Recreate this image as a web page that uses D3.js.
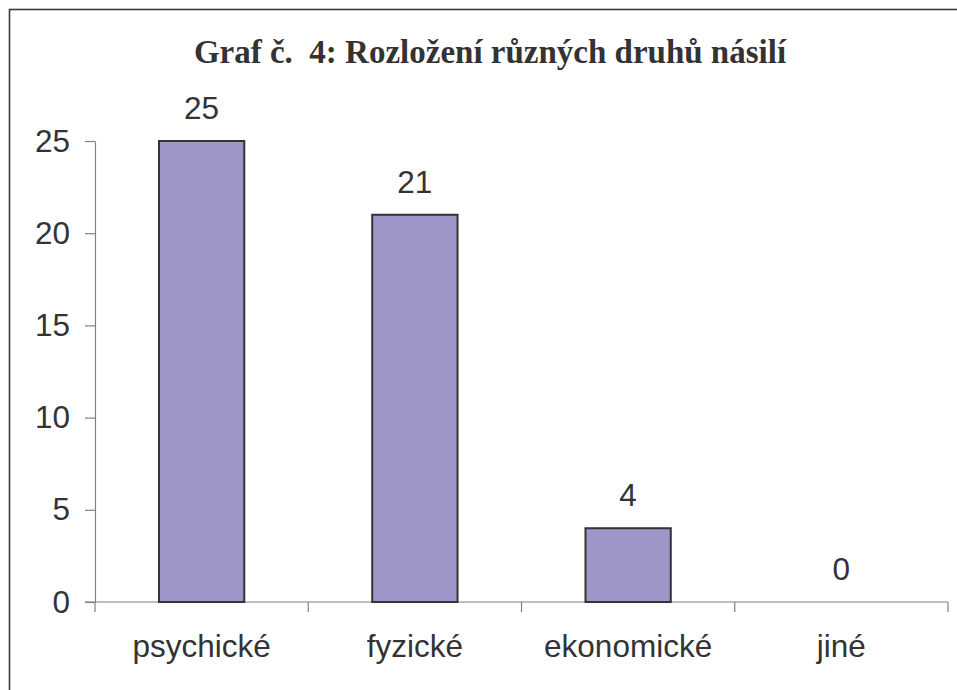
<!DOCTYPE html>
<html>
<head>
<meta charset="utf-8">
<script src="https://cdn.jsdelivr.net/npm/d3@7"></script>
<style>
  html, body { margin: 0; padding: 0; background: #fff; }
  svg { display: block; }
</style>
</head>
<body>
<svg id="chart" width="957" height="690"></svg>
<script>
const categories = ["psychické", "fyzické", "ekonomické", "jiné"];
const values = [25, 21, 4, 0];
const yTicks = [0, 5, 10, 15, 20, 25];
const titleText = "Graf č.  4: Rozložení různých druhů násilí";

const svg = d3.select("#chart");
const W = 957, H = 690;
const margin = { left: 95, right: 9, top: 141, bottom: 88 };
const x0 = margin.left, x1 = W - margin.right;
const yTop = margin.top, yBot = H - margin.bottom;

const textColor = "#333333";
const axisColor = "#808080";
const fontSans = "'Liberation Sans', Arial, sans-serif";
const labelSize = 31.5;

// outer frame (extends beyond the right and bottom edges)
svg.append("rect")
  .attr("x", 9.5).attr("y", 9.5)
  .attr("width", 970).attr("height", 700)
  .attr("fill", "none").attr("stroke", "#3a3a3a").attr("stroke-width", 1.6);

svg.append("text")
  .attr("x", 490).attr("y", 63)
  .attr("text-anchor", "middle")
  .attr("font-family", "'Liberation Serif', 'Times New Roman', serif")
  .attr("font-weight", "bold")
  .attr("font-size", 33)
  .attr("fill", textColor)
  .style("white-space", "pre")
  .attr("xml:space", "preserve")
  .text(titleText);

const x = d3.scaleBand().domain(categories).range([x0, x1]).paddingInner(0.6).paddingOuter(0.3);
const y = d3.scaleLinear().domain([0, 25]).range([yBot, yTop]);

// y axis
const yAxis = d3.axisLeft(y).tickValues(yTicks).tickSize(10).tickPadding(15).tickSizeOuter(0);
const gy = svg.append("g").attr("transform", `translate(${x0},0)`).call(yAxis);
gy.select(".domain").attr("stroke", axisColor).attr("stroke-width", 1.2);
gy.selectAll(".tick line").attr("stroke", axisColor).attr("stroke-width", 1.2);
gy.selectAll(".tick text")
  .attr("font-family", fontSans)
  .attr("font-size", labelSize)
  .attr("fill", textColor);

// x axis with ticks at band boundaries
const step = x.step();
const boundaries = d3.range(categories.length + 1).map(i => x0 + i * step);
const gx = svg.append("g");
gx.append("line")
  .attr("x1", x0 - 10).attr("x2", x1)
  .attr("y1", yBot).attr("y2", yBot)
  .attr("stroke", axisColor).attr("stroke-width", 1.2);
gx.selectAll("line.tk").data(boundaries).join("line").attr("class", "tk")
  .attr("x1", d => d).attr("x2", d => d)
  .attr("y1", yBot).attr("y2", yBot + 10)
  .attr("stroke", axisColor).attr("stroke-width", 1.2);
gx.selectAll("text").data(categories).join("text")
  .attr("x", d => x(d) + x.bandwidth() / 2)
  .attr("y", 657)
  .attr("text-anchor", "middle")
  .attr("font-family", fontSans)
  .attr("font-size", labelSize)
  .attr("fill", textColor)
  .text(d => d);

// bars
const data = categories.map((c, i) => ({ c, v: values[i] }));
svg.append("g").selectAll("rect").data(data.filter(d => d.v > 0)).join("rect")
  .attr("x", d => x(d.c))
  .attr("y", d => y(d.v))
  .attr("width", x.bandwidth())
  .attr("height", d => y(0) - y(d.v))
  .attr("fill", "#9d96c8")
  .attr("stroke", "#333333")
  .attr("stroke-width", 2);

// value labels
svg.append("g").selectAll("text").data(data).join("text")
  .attr("x", d => x(d.c) + x.bandwidth() / 2)
  .attr("y", d => y(d.v) - 22)
  .attr("text-anchor", "middle")
  .attr("font-family", fontSans)
  .attr("font-size", labelSize)
  .attr("fill", textColor)
  .text(d => d.v);
</script>
</body>
</html>
